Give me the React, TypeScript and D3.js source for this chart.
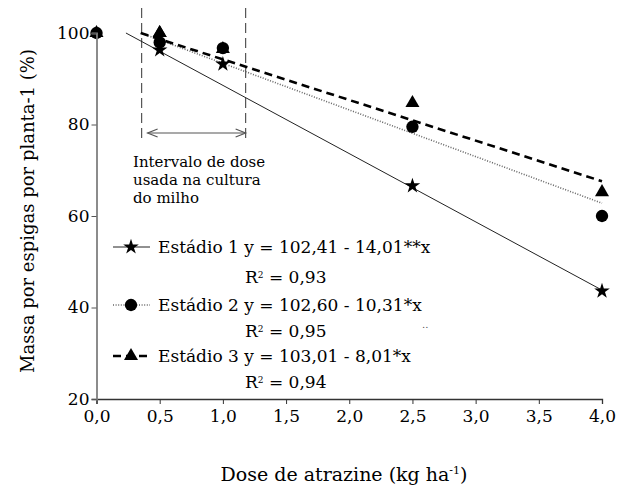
import React, { useEffect, useRef } from "react";
import * as d3 from "d3";

const doses = [0, 0.5, 1.0, 2.5, 4.0];
const stage1 = [100, 96.3, 93.2, 66.6, 43.6];
const stage2 = [100, 98.8, 96.7, 79.5, 60.0];
const stage3 = [100, 100, 96.5, 84.7, 65.2];
// regression line end points [x, y]
const fit1 = [[0.233, 100], [4.0, 43.8]];
const fit2 = [[0.35, 100], [4.0, 62.8]];
const fit3 = [[0.35, 100], [4.0, 67.6]];
const xTicks = [0, 0.5, 1, 1.5, 2, 2.5, 3, 3.5, 4];
const yTicks = [20, 40, 60, 80, 100];
const doseInterval = [0.357, 1.18];
const legendEq = [
  "Estádio 1 y = 102,41 - 14,01**x",
  "Estádio 2 y = 102,60 - 10,31*x",
  "Estádio 3 y = 103,01 - 8,01*x",
];
const legendR2 = ["0,93", "0,95", "0,94"];

const W = 630, H = 489;
const FONT = "'DejaVu Serif', serif";

export default function App() {
  const gx = useRef<SVGGElement>(null);
  const gy = useRef<SVGGElement>(null);
  const x = d3.scaleLinear().domain([0, 4]).range([96.5, 602]);
  const y = d3.scaleLinear().domain([20, 100]).range([399, 33]);

  useEffect(() => {
    const ax = d3.axisBottom(x).tickValues(xTicks).tickSize(5).tickPadding(6)
      .tickFormat((d: any) => d3.format(".1f")(d).replace(".", ","));
    const sx = d3.select(gx.current!);
    sx.call(ax as any);
    sx.attr("font-family", null).attr("font-size", null);
    sx.select(".domain").attr("stroke", "#333").attr("stroke-width", 1.3);
    sx.selectAll(".tick line").attr("stroke", "#333");
    sx.selectAll(".tick text").style("font-family", FONT).style("font-size", "17px").attr("fill", "#000");
    const ay = d3.axisLeft(y).tickValues(yTicks).tickSize(5).tickPadding(2).tickFormat(d3.format("d") as any);
    const sy = d3.select(gy.current!);
    sy.call(ay as any);
    sy.attr("font-family", null).attr("font-size", null);
    sy.select(".domain").attr("stroke", "#808080").attr("stroke-width", 1.8);
    sy.selectAll(".tick line").attr("stroke", "#555");
    sy.selectAll(".tick text").style("font-family", FONT).style("font-size", "17px").attr("fill", "#000");
  }, []);

  const line = d3.line<number[]>().x(d => x(d[0])).y(d => y(d[1]));
  const star = d3.symbol().type(d3.symbolStar).size(75)()!;
  const tri = d3.symbol().type(d3.symbolTriangle).size(85)()!;
  const circ = d3.symbol().type(d3.symbolCircle).size(120)()!;

  const styles = [
    { stroke: "#222", width: 1, dash: "none" },
    { stroke: "#666", width: 1.6, dash: "1,1.6" },
    { stroke: "#000", width: 2.6, dash: "8,5" },
  ];
  const fits = [fit1, fit2, fit3];
  const legendY = [247, 305, 356];
  const legendBase = [253, 311, 362];
  const r2Base = [283, 337, 388];
  const marks = [star, circ, tri];

  const ix0 = x(doseInterval[0]), ix1 = x(doseInterval[1]);
  const ay = 133;
  const tf = { fontFamily: FONT };

  return (
    <svg width={W} height={H} style={{ position: "absolute", left: 0, top: 0, background: "#fff", fontFamily: FONT }}>
      {/* interval annotation */}
      <line x1={ix0} x2={ix0} y1={8} y2={143} stroke="#555" strokeWidth={1.2} strokeDasharray="10,5" />
      <line x1={ix1} x2={ix1} y1={8} y2={143} stroke="#555" strokeWidth={1.2} strokeDasharray="10,5" />
      <line x1={ix0 + 6} x2={ix1} y1={ay} y2={ay} stroke="#555" strokeWidth={1.2} />
      <polyline points={`${ix0 + 16},${ay - 4} ${ix0 + 6},${ay} ${ix0 + 16},${ay + 4}`} fill="none" stroke="#555" strokeWidth={1.2} />
      <polyline points={`${ix1 - 10},${ay - 4} ${ix1},${ay} ${ix1 - 10},${ay + 4}`} fill="none" stroke="#555" strokeWidth={1.2} />
      <text x={133} y={167} fontSize={15} style={tf}>Intervalo de dose</text>
      <text x={133} y={185} fontSize={15} style={tf}>usada na cultura</text>
      <text x={133} y={203} fontSize={15} style={tf}>do milho</text>

      {/* fitted lines */}
      {fits.map((f, i) => (
        <path key={"f" + i} d={line(f as any)!} fill="none" stroke={styles[i].stroke}
          strokeWidth={styles[i].width} strokeDasharray={styles[i].dash} />
      ))}

      {/* points */}
      {doses.map((d, i) => (
        <path key={"t" + i} d={tri} transform={`translate(${x(d)},${y(stage3[i])})`} fill="#000" />
      ))}
      {doses.map((d, i) => (i === 0 ? null :
        <path key={"s" + i} d={star} transform={`translate(${x(d)},${y(stage1[i])})`} fill="#000" />
      ))}
      {doses.map((d, i) => (
        <path key={"c" + i} d={circ} transform={`translate(${x(d)},${y(stage2[i]) + (i === 1 ? 4 : 0)})`} fill="#000" />
      ))}
      {/* redraw triangle at 0.5 on top */}
      <path d={tri} transform={`translate(${x(doses[1])},${y(stage3[1])})`} fill="#000" />

      <g ref={gx} transform={`translate(0,${399})`} />
      <g ref={gy} transform={`translate(${96.5},0)`} />

      {/* legend */}
      {legendEq.map((t, i) => (
        <g key={"l" + i}>
          <line x1={113} x2={150} y1={legendY[i]} y2={legendY[i]} stroke={styles[i].stroke}
            strokeWidth={styles[i].width} strokeDasharray={styles[i].dash} />
          <path d={marks[i]} transform={`translate(131,${legendY[i]})`} fill="#000" />
          <text x={158} y={legendBase[i]} fontSize={17} style={tf}>{t}</text>
          <text x={245} y={r2Base[i]} fontSize={17} style={tf}>R<tspan fontSize={9} dy={-5}>2</tspan><tspan dy={5}> = {legendR2[i]}</tspan></text>
        </g>
      ))}
      <text x={422} y={328} fontSize={10} fill="#555" style={tf}>..</text>

      {/* axis titles */}
      <text x={344} y={481} fontSize={19} textAnchor="middle" style={tf}>Dose de atrazine (kg ha<tspan fontSize={11} dy={-7}>-1</tspan><tspan dy={7}>)</tspan></text>
      <text transform={`translate(34,211) rotate(-90)`} fontSize={18} textAnchor="middle" style={tf}>Massa por espigas por planta-1 (%)</text>
    </svg>
  );
}
